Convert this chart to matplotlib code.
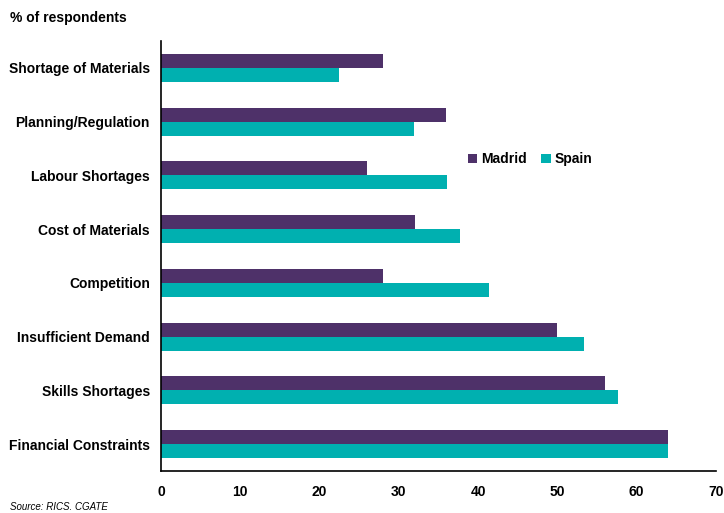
import matplotlib.pyplot as plt
import numpy as np

plt.rcParams['font.family'] = ['Liberation Sans', 'DejaVu Sans']

# datos (de abajo hacia arriba)
categories = ['Financial Constraints', 'Skills Shortages', 'Insufficient Demand',
              'Competition', 'Cost of Materials', 'Labour Shortages',
              'Planning/Regulation', 'Shortage of Materials']
madrid = [64.0, 56.0, 50.0, 28.0, 32.0, 26.0, 36.0, 28.0]
spain = [63.9, 57.6, 53.3, 41.4, 37.7, 36.1, 31.9, 22.5]
xticks = [0, 10, 20, 30, 40, 50, 60, 70]

purple = '#4E3169'
teal = '#00B0B0'

fig = plt.figure(figsize=(7.24, 5.13), dpi=100)
ax = fig.add_axes([161 / 724, 1 - 471 / 513, 555 / 724, 430 / 513])

y = np.arange(len(categories))
h = 0.26
ax.barh(y + h / 2, madrid, height=h, color=purple, label='Madrid')
ax.barh(y - h / 2, spain, height=h, color=teal, label='Spain')

ax.set_xlim(0, 70)
ax.set_ylim(-0.5, len(categories) - 0.5)
ax.set_xticks(xticks)
ax.set_xticklabels([str(t) for t in xticks], fontsize=10, fontweight='bold')
ax.set_yticks(y)
ax.set_yticklabels(categories, fontsize=10, fontweight='bold')
ax.tick_params(axis='both', length=0)
ax.tick_params(axis='x', pad=10)
ax.tick_params(axis='y', pad=8)

for s in ['top', 'right']:
    ax.spines[s].set_visible(False)
ax.spines['left'].set_linewidth(1.2)
ax.spines['bottom'].set_linewidth(1.2)

ax.legend(loc='upper left', bbox_to_anchor=(0.53, 0.77), ncol=2, frameon=False,
          prop={'size': 10, 'weight': 'bold'}, handlelength=0.7, handleheight=0.7,
          handletextpad=0.3, columnspacing=1.0)

fig.text(10 / 724, 1 - 18 / 513, '% of respondents', fontsize=10, fontweight='bold', va='center')
fig.text(10 / 724, 1 - 507 / 513, 'Source: RICS. CGATE', fontsize=7, style='italic', va='center')

plt.savefig('out.png', dpi=100)
